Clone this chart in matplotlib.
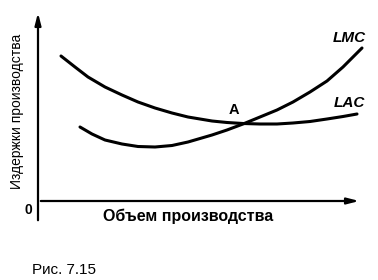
import matplotlib
matplotlib.use("Agg")
from matplotlib import pyplot as plt

# curves (origin at the axes corner)
lac_x = [23, 37, 50, 67, 84, 100, 117, 134, 150, 174, 189, 205, 222, 239, 255, 272, 289, 305, 319]
lac_y = [145, 134, 124, 114, 106, 99, 93, 88, 84, 80, 78.5, 77.5, 77, 77, 78, 79.5, 82, 84.5, 87]

lmc_x = [42, 54, 67, 84, 100, 117, 134, 150, 174, 189, 205, 222, 239, 255, 272, 289, 305, 324]
lmc_y = [74, 67, 61, 57, 54.5, 54, 55.5, 59, 66, 71, 77, 84, 91, 99, 109, 120, 134, 153]

curve_names = ["LAC", "LMC"]
point_name = "A"
x_title = "Объем производства"
y_title = "Издержки производства"
caption = "Рис. 7.15"

plt.rcParams['font.family'] = ['Liberation Sans', 'DejaVu Sans']

fig = plt.figure(figsize=(3.78, 2.80), dpi=100)
ax = fig.add_axes([0, 0, 1, 1])
ax.set_xlim(-38, 340)
ax.set_ylim(-79, 201)
ax.axis("off")

# axes with arrows
arrow = dict(arrowstyle="-|>,head_length=0.7,head_width=0.18", color="black", lw=1.6)
ax.annotate("", xy=(0, 191), xytext=(0, -22), arrowprops=arrow)
ax.annotate("", xy=(324, 0), xytext=(0, 0), arrowprops=arrow)

ax.plot(lac_x, lac_y, color="black", lw=2.2, solid_capstyle="round", solid_joinstyle="round")
ax.plot(lmc_x, lmc_y, color="black", lw=2.2, solid_capstyle="round", solid_joinstyle="round")

ax.text(311, 98, curve_names[0], fontsize=11, fontweight="bold", style="italic",
        ha="center", va="center")
ax.text(311, 163, curve_names[1], fontsize=11, fontweight="bold", style="italic",
        ha="center", va="center")
ax.text(196, 91, point_name, fontsize=10.5, fontweight="bold", ha="center", va="center")

ax.text(-10, -9, "0", fontsize=10, fontweight="bold", ha="center", va="center")
ax.text(150, -15, x_title, fontsize=11.5, fontweight="bold", ha="center", va="center")
ax.text(-21, 90, y_title, fontsize=10, rotation=90, ha="center", va="center")
ax.text(-6, -69, caption, fontsize=11, ha="left", va="center")

fig.savefig("out.png", dpi=100)
